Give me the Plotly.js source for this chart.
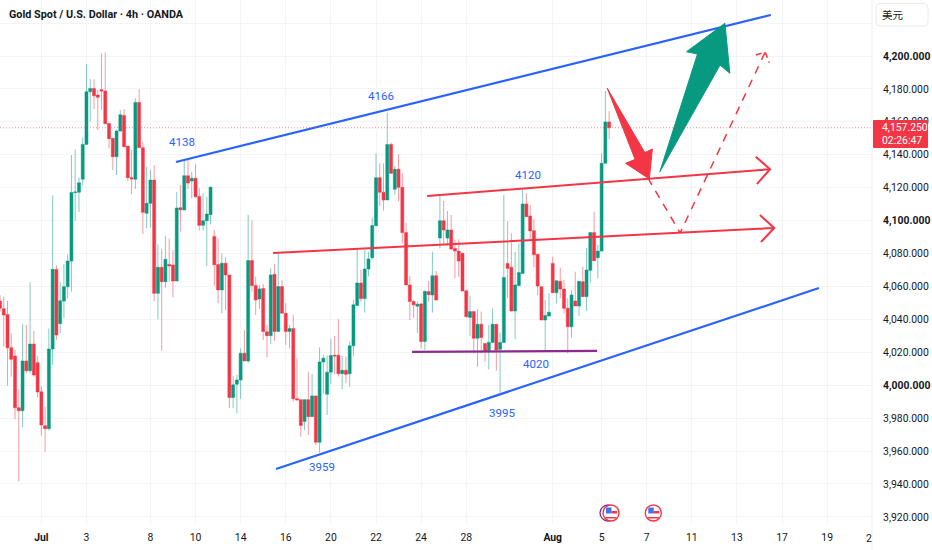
<!DOCTYPE html>
<html><head><meta charset="utf-8">
<script src="https://cdn.plot.ly/plotly-3.0.1.min.js"></script>
<style>html,body{margin:0;padding:0;background:#fff}#c{width:932px;height:550px}</style>
</head><body><div id="c"></div>
<script>
// candle series, values (4h bars, weekends removed)
const opens=[4051.1,4046.5,4043,4022.8,4017.7,3986.3,3984.5,4014.7,4008.8,4025,4013.7,3996,3975.4,3973.6,4022,4070.4,4037.4,4051.1,4059.8,4075.4,4117,4117.2,4125.1,4146.3,4178.3,4180.3,4176.3,4179.5,4178.7,4159,4150,4138.8,4154.4,4163.9,4145.3,4126.1,4125.1,4171.8,4144.3,4104.4,4110.5,4124.6,4055.8,4071.6,4062.9,4073.4,4073,4063.3,4107.8,4106.4,4127.3,4124,4125.7,4114.7,4097.1,4099.9,4103.6,4090.4,4073.3,4057.9,4074.1,4067,3992.5,4000.6,4003.2,4019.4,4014.7,4075.7,4060.5,4052.4,4058.7,4032.4,4030.1,4067.4,4032.6,4059.9,4043.7,4032.6,4034.4,3991.7,3991.2,3977.9,3991.2,3980.9,3993.5,3965.3,4014.1,3994.5,4007.9,4018.2,4018.2,4007,4009.1,4007,4023.9,4048.4,4062.1,4052.6,4070.6,4077.5,4096.8,4126.1,4117.2,4112.5,4146.2,4119,4131.2,4120.2,4092.7,4060.9,4050.8,4048,4049.4,4026.5,4056.9,4054.8,4066.5,4089.4,4099.9,4089.4,4094.3,4083.1,4081.5,4080.1,4057.4,4041.2,4044.7,4028.5,4037,4025.4,4021,4026,4037,4021.8,4026,4074,4071.6,4045.1,4060.5,4067.9,4110.1,4102.8,4093.9,4079.5,4059.8,4039.6,4042,4074,4056.2,4063.1,4058.4,4046.7,4035.5,4051.1,4048.1,4062.9,4053.8,4069.8,4092.7,4077.5,4081.5,4134.8,4159.9];
const highs=[4054.8,4053.8,4051.1,4031.5,4021.4,3997.5,4037,4036.6,4062.5,4032.9,4017.7,3999.1,3986.9,4034.5,4115.3,4073,4062.9,4073.6,4079.5,4139.8,4143.3,4126.3,4150.4,4195.1,4186,4185.8,4179.3,4201.6,4202.2,4159.4,4150,4155.4,4167.2,4167.8,4145.3,4142.9,4174.3,4179.9,4147.9,4132.7,4130.7,4133.6,4085.6,4082.7,4090.8,4089.2,4082.1,4117.4,4121.6,4136.8,4136.8,4129.7,4134.2,4119.6,4116.5,4114.5,4121,4094.3,4089.3,4080.1,4077.7,4067,4005.6,4006.2,4022.4,4033.6,4103.4,4100,4066,4060.9,4061.5,4036.6,4071,4073.7,4080.6,4063.9,4049.8,4036.6,4042.7,4016.4,3991.4,3991.6,4007.9,4006.8,3993.5,4023,4018.4,4018,4028.1,4029.9,4040.1,4017.8,4017.4,4026.5,4051.8,4083.2,4070,4082.2,4081.2,4101.8,4140.9,4134.8,4134.8,4165.6,4147.4,4133.2,4140.3,4128.7,4098.8,4066.4,4051.8,4050.8,4049.8,4057.9,4063.3,4081.1,4069.4,4115.5,4111.9,4105.8,4103.4,4088.2,4088.6,4080.5,4057.4,4054.2,4044.7,4046.1,4044.7,4025.4,4036.6,4046.7,4037,4032.1,4115.5,4099.7,4092.2,4081.1,4086.2,4119.6,4116.5,4109.5,4100.8,4079.5,4059.8,4051.7,4055.8,4078.1,4063.5,4071.4,4063.9,4052.8,4057.8,4069,4063.1,4072,4083.5,4092.7,4105.4,4085.2,4140.8,4178.7,4166.6];
const lows=[4044.7,4023.4,3999.7,4005.2,3979.3,3941.4,3974.4,4007.2,4007.2,4005.2,3992.6,3969.3,3959.6,3972.4,4012.3,4027.4,4031.5,4040.6,4052.8,4056.8,4099.7,4105.2,4121.2,4146.3,4160.1,4167.8,4155,4167.2,4158.9,4143.9,4130.7,4127.7,4154,4144.9,4124,4116.1,4119.2,4144.3,4091.8,4095.3,4095.7,4051.1,4040,4021,4059.2,4062.9,4053.4,4063.3,4093.3,4106.4,4119.2,4113.5,4113.9,4093.9,4093.9,4072.4,4097.8,4060.5,4049.8,4043.7,4045.7,3986,3986,3982.9,3991.7,4014.7,4013.3,4056.9,4042.7,4046.3,4027.5,4016.8,4024.9,4026.9,4032.6,4043.7,4024.5,4022.4,3990,3991,3968.8,3972.8,3969.8,3980.9,3963.7,3959.1,3995.1,3981.9,4000.6,4006.8,4005.3,3997.5,4001.2,3999.1,4017.8,4048.4,4050.8,4044.1,4066,4076.1,4096.8,4108.9,4106.1,4112.5,4128.3,4115.6,4111.9,4086.2,4060.9,4039.6,4040.7,4031.5,4022.4,4021.4,4050.8,4044.1,4051.7,4083.1,4086.2,4084.8,4082.1,4064.9,4065.9,4057.2,4041.2,4029.9,4019.4,4011.2,4019.4,4014.3,4009.6,4025.4,4008.8,3995.5,4026,4052.8,4044.7,4027.9,4059.9,4067.5,4102.4,4088.2,4071.6,4054.8,4039.6,4020.4,4042,4056.2,4049.7,4053,4043.6,4019.4,4028.9,4048.1,4042,4053.8,4045.1,4061.9,4075.6,4064.9,4081.5,4134.8,4149.4];
const closes=[4046.7,4042.6,4022.8,4015.7,3986.3,3984.5,4014.7,4008.8,4025,4006.2,3995.9,3975.8,3973.6,4022,4070.4,4030.5,4051.3,4059.8,4075.4,4117,4117.4,4123,4146.3,4178.3,4180.3,4175.9,4174.9,4178.7,4158.9,4149.8,4138.8,4154.4,4164.3,4144.9,4126.1,4125.3,4171.8,4144.3,4105,4110.5,4124.6,4055.8,4071.6,4062.9,4076.5,4072.4,4063.3,4107.6,4106.6,4127.3,4122.8,4125.7,4114.5,4097.1,4099.9,4104,4120.2,4073.2,4057.9,4074.1,4067,3992.5,4000.2,4003.2,4019.4,4014.7,4075.7,4060.5,4051.8,4058.5,4032.6,4030.1,4067,4032.6,4059.9,4043.7,4032.6,4034.4,3991.7,3991,3975.5,3991.2,3980.9,3993.5,3965.3,4014.1,4016.4,4007.9,4018,4017.8,4007,4009.1,4006.6,4023.9,4048.8,4062.1,4052.6,4070.6,4076.7,4097,4126.1,4117.2,4112.5,4146.2,4128.7,4131.2,4120.2,4092.7,4060.9,4050.8,4048.8,4049.2,4026.5,4056.9,4055,4066.5,4051.7,4099.9,4094.3,4094.3,4082.7,4081.5,4075.4,4057.2,4041.6,4044.7,4028.5,4037,4028.9,4021,4026,4037,4021.4,4026,4065.5,4071,4045.1,4060.9,4068.4,4110.1,4102.4,4093.7,4079.3,4060.3,4039.6,4042.4,4044.3,4056.2,4063.5,4058.4,4046.7,4035.5,4054.8,4048.1,4063.1,4053.8,4070,4092.7,4075.6,4081.5,4134.8,4159.9,4156.4];

// time axis: bar index of each date label
const tickBars=[11,23,40,52,64,76,88,100,112,124,147,160,172,184,196,208,220,231.8];
const tickDates=["<b>Jul</b>","3","8","10","14","16","20","22","24","28","<b>Aug</b>","5","7","11","13","17","19"," "];
// price axis
const priceTicks=[3920,3940,3960,3980,4000,4020,4040,4060,4080,4100,4120,4140,4160,4180,4200,4220];
const priceLabels=["3,920.000","3,940.000","3,960.000","3,980.000","<b>4,000.000</b>","4,020.000","4,040.000","4,060.000","4,080.000","<b>4,100.000</b>","4,120.000","4,140.000","4,160.000","4,180.000","<b>4,200.000</b>"," "];
const lastLine=4156.4;

// drawings, [bar index, price]
const channelTop=[[46.8,4135.6],[205,4224.9]];
const channelBottom=[[73.4,3949.1],[217.8,4059]];
const redUpper=[[113.6,4114.9],[204.8,4131.2],[201,4138.8],[204.8,4131.2],[201.3,4122.2]];
const redLower=[[72.6,4080.3],[205.9,4095.5],[202.1,4103.4],[205.9,4095.5],[202.4,4087]];
const support=[[109.6,4020.2],[158.8,4020.8]];
const dashedPath=[[172.3,4125.9],[180.9,4092.5],[203.5,4202.4]];
const dashedHead=[[201,4200.6],[203.5,4202.4],[204.6,4195.9]];
const redArrow=[[161.5,4180.4],[171.5,4141.3],[173.5,4143.5],[172.7,4125.3],[166.4,4134.8],[168.9,4137.2],[161.5,4180.4]];
const greenArrow=[[175.5,4129.7],[185.5,4201.2],[182.6,4202.6],[192.8,4219.9],[194.1,4189.5],[191.5,4194.5],[175.5,4129.7]];
const levelNotes=[["4138",48.4,4147.9],["4166",101.3,4175.7],["4120",140.3,4127.9],["4020",142.5,4012.9],["3995",133.6,3982.9],["3959",85.6,3950.1]];

const UP='#089981',DOWN='#f23645',BLUE='#2962ff',INK='#131722',GRID='#f3f4f6';
const NUM='Roboto,"Liberation Sans",sans-serif';
const PW=872,PH=524;
const px=x=>x/PW, py=y=>1-y/PH;
const bars=opens.map((_,i)=>i);

function line(pts,color,width,dash){
  return {type:'scatter',mode:'lines',x:pts.map(p=>p[0]),y:pts.map(p=>p[1]),hoverinfo:'skip',showlegend:false,
    line:{color:color,width:width,dash:dash||'solid',shape:'linear'}};
}
function poly(pts,color){
  return {type:'scatter',mode:'lines',fill:'toself',fillcolor:color,x:pts.map(p=>p[0]),y:pts.map(p=>p[1]),hoverinfo:'skip',showlegend:false,
    line:{color:color,width:1}};
}
const traces=[
 {type:'candlestick',x:bars,open:opens,high:highs,low:lows,close:closes,showlegend:false,whiskerwidth:0,
  increasing:{line:{color:'rgba(8,153,129,0.5)',width:1},fillcolor:UP},
  decreasing:{line:{color:'rgba(242,54,69,0.5)',width:1},fillcolor:DOWN}},
 line(channelTop,BLUE,2.2),line(channelBottom,BLUE,2.2),
 line(redUpper,DOWN,2),line(redLower,DOWN,2),
 line(support,'#8e2a8f',2.2),
 line(dashedPath,DOWN,1.5,'8px,7px'),line(dashedHead,DOWN,1.5,'6px,4px'),
 poly(redArrow,DOWN),poly(greenArrow,UP)
];

function circle(cx,cy,r,fill,stroke,w){
  return {type:'circle',xref:'paper',yref:'paper',x0:px(cx-r),x1:px(cx+r),y0:py(cy+r),y1:py(cy-r),
    fillcolor:fill,line:{color:stroke,width:w||0},layer:'above'};
}
function rect(x0,y0,x1,y1,fill){
  return {type:'rect',xref:'paper',yref:'paper',x0:px(x0),x1:px(x1),y0:py(y1),y1:py(y0),fillcolor:fill,line:{width:0},layer:'above'};
}
function flag(cx,cy){
  return [circle(cx,cy,8,'#fff',DOWN,1.4),
    rect(cx-5,cy-5.5,cx+0.5,cy+0.5,'#3f74ee'),
    rect(cx+0.5,cy-2,cx+6,cy+0.5,DOWN),
    rect(cx-5.5,cy+4,cx+5.5,cy+5.5,DOWN)];
}
function rounded(x0,y0,x1,y1,r){
  const X=px,Y=py;
  return `M${X(x0+r)},${Y(y0)} L${X(x1-r)},${Y(y0)} Q${X(x1)},${Y(y0)} ${X(x1)},${Y(y0+r)} L${X(x1)},${Y(y1-r)} Q${X(x1)},${Y(y1)} ${X(x1-r)},${Y(y1)} L${X(x0+r)},${Y(y1)} Q${X(x0)},${Y(y1)} ${X(x0)},${Y(y1-r)} L${X(x0)},${Y(y0+r)} Q${X(x0)},${Y(y0)} ${X(x0+r)},${Y(y0)} Z`;
}
const shapes=[
 {type:'line',xref:'x',yref:'y',x0:0,x1:PW/3.76,y0:lastLine,y1:lastLine,line:{color:'rgba(242,54,69,0.6)',width:1,dash:'1px,2px'},layer:'above'},
 {type:'line',xref:'paper',yref:'paper',x0:1,x1:1,y0:-26/PH,y1:1,line:{color:'#eceef2',width:1}},
 {type:'path',xref:'paper',yref:'paper',path:rounded(876,3.5,928,26,4),fillcolor:'#fff',line:{color:'#e8eaee',width:1},layer:'above'},
 {type:'path',xref:'paper',yref:'paper',path:rounded(873,120,928,148,1),fillcolor:DOWN,line:{width:0},layer:'above'},
 circle(608,513,8,'#fff','#7b2d8e',1.3),
 ...flag(611,513),...flag(653.3,513)
];
const annotations=[
 {xref:'paper',yref:'paper',x:px(7),y:py(15),xanchor:'left',yanchor:'middle',showarrow:false,text:'<b>Gold Spot / U.S. Dollar · 4h · OANDA</b>',font:{family:'Roboto,sans-serif',size:10.8,color:INK}},
 {xref:'paper',yref:'paper',x:px(893),y:py(15),xanchor:'center',yanchor:'middle',showarrow:false,text:'美元',font:{family:'"Noto Sans CJK SC"',size:10.5,color:INK}},
 {xref:'paper',yref:'paper',x:px(880),y:py(127.5),xanchor:'left',yanchor:'middle',showarrow:false,text:'4,157.250',font:{family:NUM,size:10.4,color:'#fff'}},
 {xref:'paper',yref:'paper',x:px(880),y:py(140.5),xanchor:'left',yanchor:'middle',showarrow:false,text:'02:26:47',font:{family:NUM,size:10.4,color:'#fff'}},
 {xref:'paper',yref:'paper',x:px(869),y:py(538),xanchor:'center',yanchor:'middle',showarrow:false,text:'2',font:{family:NUM,size:10.4,color:INK}},
 ...levelNotes.map(n=>({xref:'x',yref:'y',x:n[1],y:n[2],xanchor:'center',yanchor:'middle',showarrow:false,text:n[0],font:{family:NUM,size:11.5,color:BLUE}}))
];
const layout={
 width:932,height:550,margin:{l:0,r:60,t:0,b:26,pad:0},paper_bgcolor:'#fff',plot_bgcolor:'#fff',showlegend:false,boxgap:0.2,boxgroupgap:0,
 xaxis:{type:'linear',range:[0,PW/3.76],tickmode:'array',tickvals:tickBars,ticktext:tickDates,showgrid:true,gridcolor:GRID,gridwidth:1,zeroline:false,
   showline:false,ticks:'outside',ticklen:4,tickcolor:'rgba(0,0,0,0)',tickfont:{family:NUM,size:10.4,color:INK},rangeslider:{visible:false},fixedrange:true},
 yaxis:{side:'right',range:[3915.67,4234.02],tickmode:'array',tickvals:priceTicks,ticktext:priceLabels,showgrid:true,gridcolor:GRID,gridwidth:1,zeroline:false,
   showline:false,ticks:'outside',ticklen:8,tickcolor:'rgba(0,0,0,0)',tickfont:{family:NUM,size:10.4,color:INK},fixedrange:true},
 shapes:shapes,annotations:annotations
};
Plotly.newPlot('c',traces,layout,{displayModeBar:false,staticPlot:true});
</script></body></html>
